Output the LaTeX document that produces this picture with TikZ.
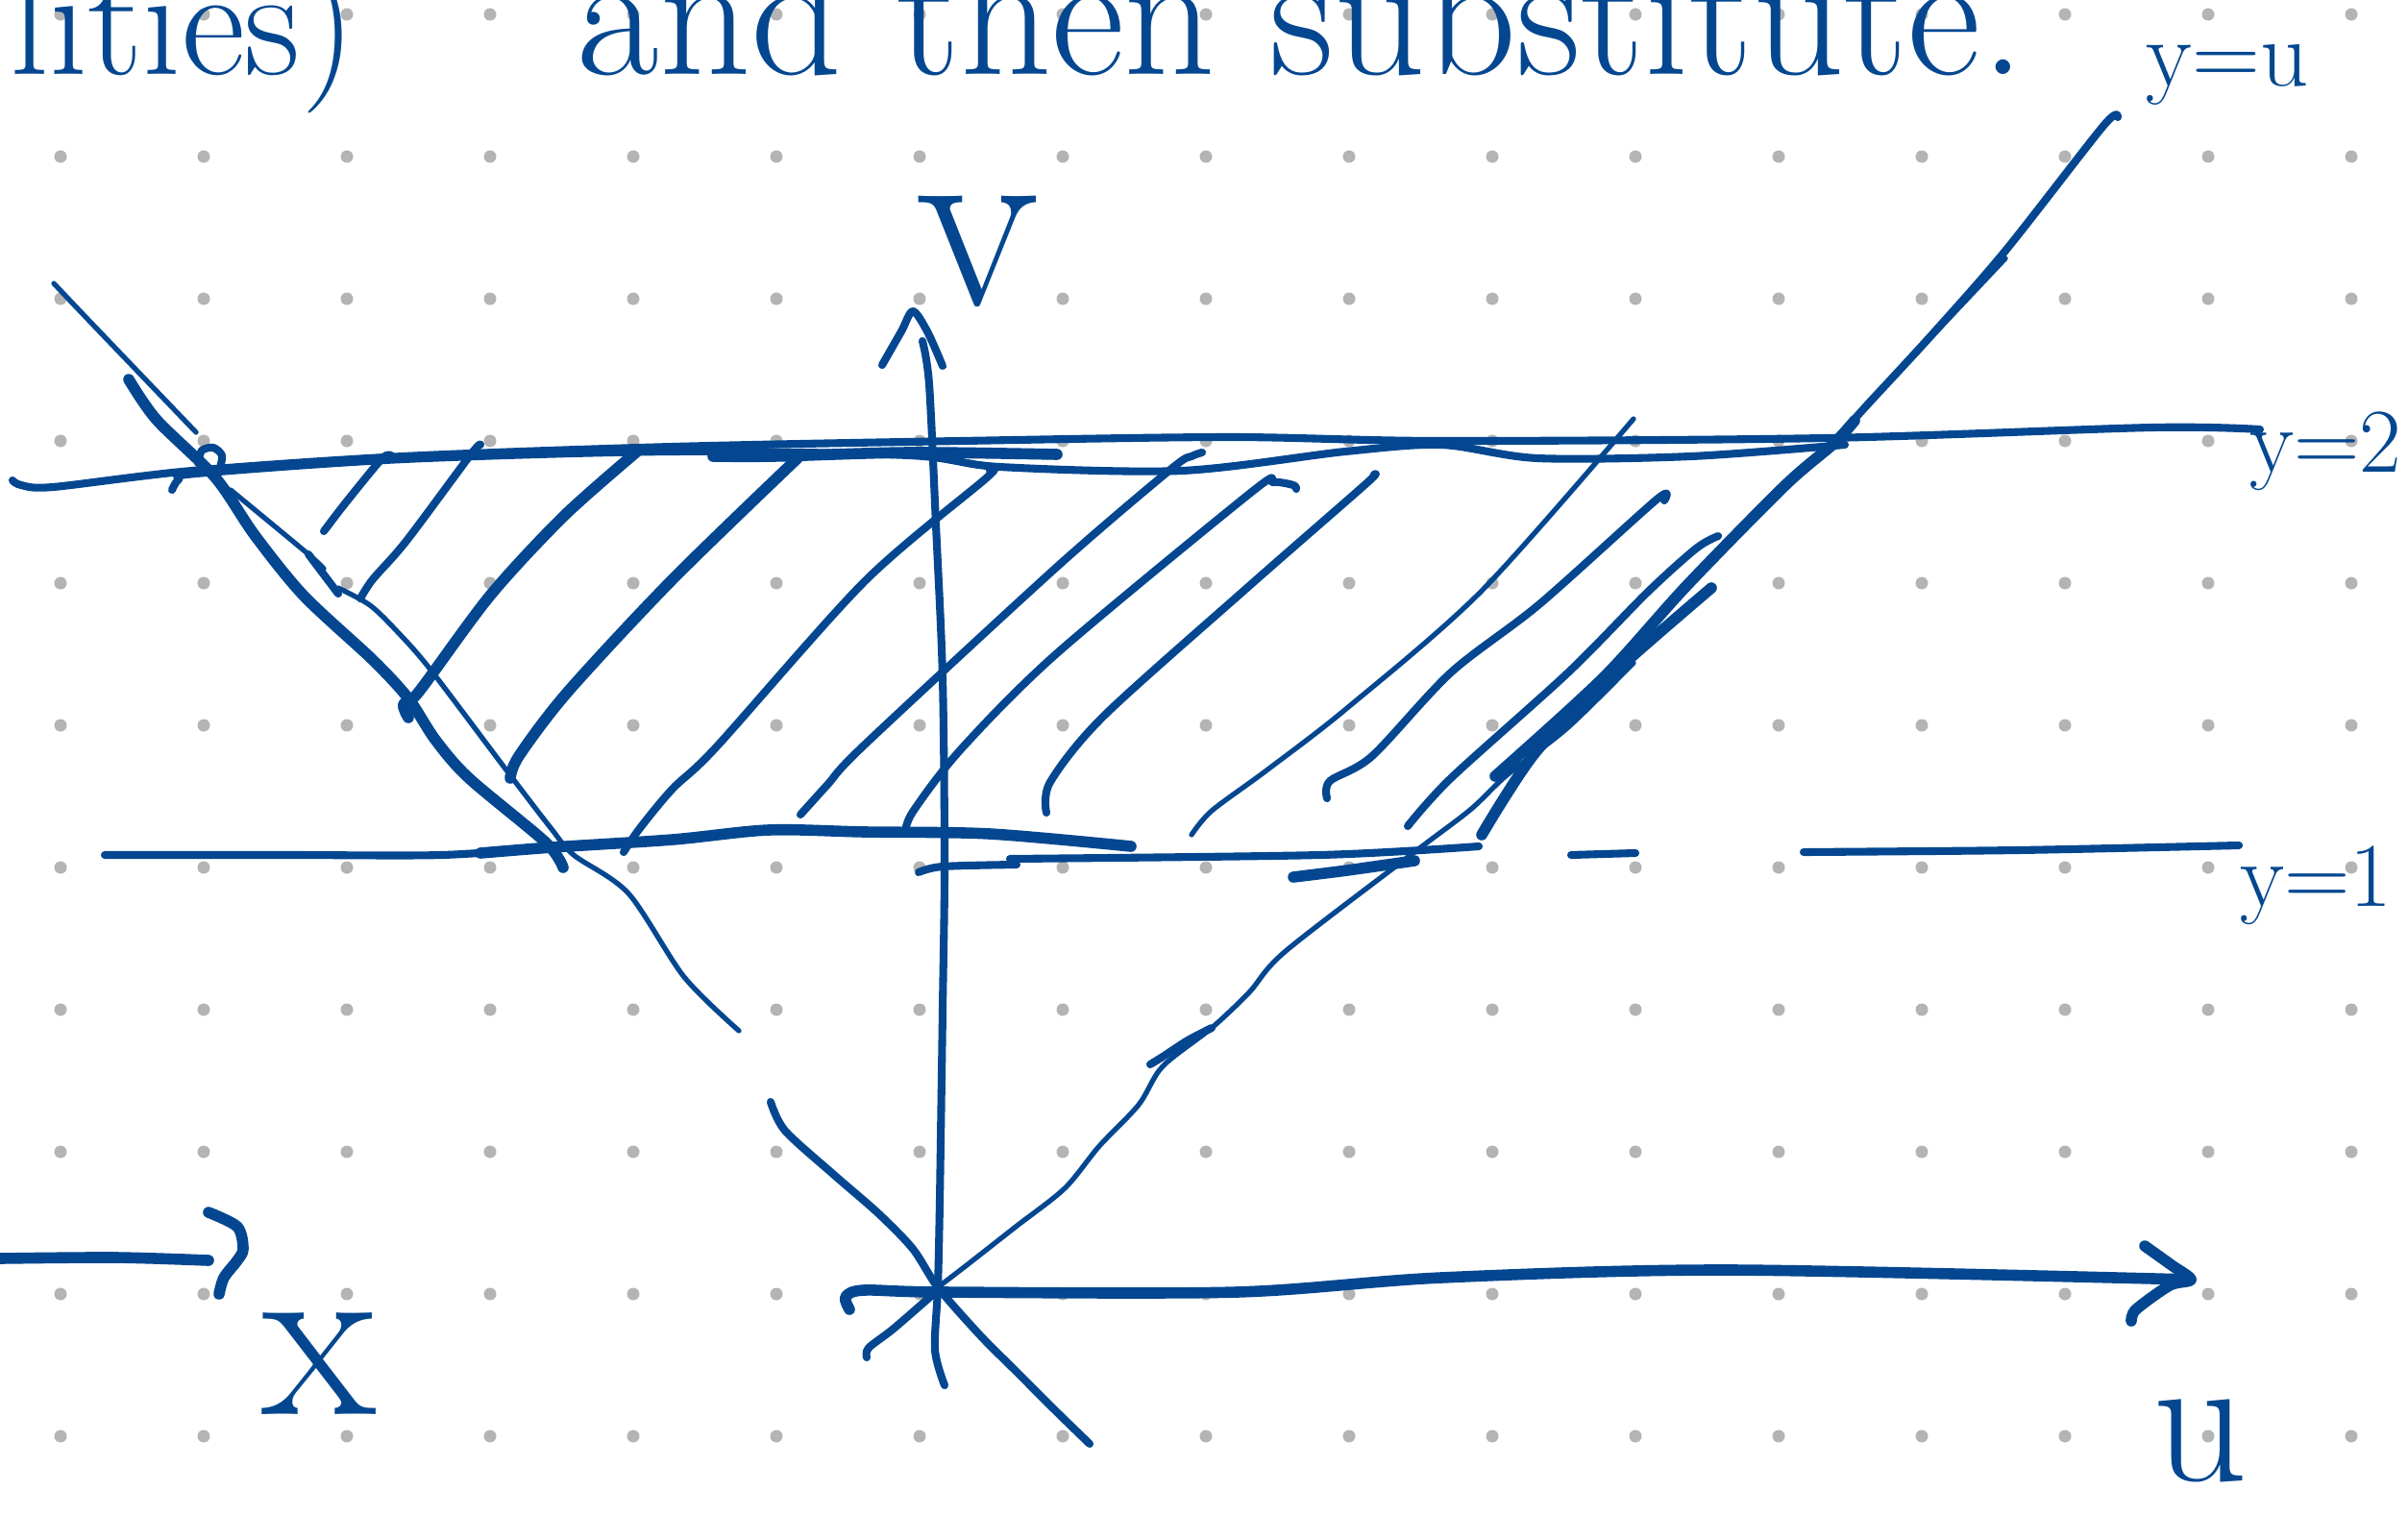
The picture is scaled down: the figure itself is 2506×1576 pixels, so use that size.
\documentclass[tikz,border=0pt]{standalone}
\usepackage{tikz}
\definecolor{inkblue}{RGB}{4,71,144}
\definecolor{dotgray}{RGB}{180,180,180}

\begin{document}
\begin{tikzpicture}[
    x=0.01cm, y=-0.01cm,
    ink/.style={draw=inkblue, line cap=round, line join=round},
    thinink/.style={ink, line width=1.5pt},
    midink/.style={ink, line width=2.3pt},
    thickink/.style={ink, line width=3.3pt},
    hand/.style={text=inkblue, inner sep=0pt},
  ]

  \useasboundingbox (0,0) rectangle (2506,1576);
  \clip (0,0) rectangle (2506,1576);

  % dotted paper
  \foreach \i in {0,...,16}
    \foreach \j in {0,...,10}
      \fill[dotgray] (63+149*\i, 15+148*\j) circle (0.65mm);

  % text cut off at the top
  \node[hand, anchor=base west, font=\fontsize{46}{46}\selectfont] (lities) at (10,78) {lities)};
  \node[hand, anchor=base west, font=\fontsize{53}{53}\selectfont] (subst) at (600,78) {and then substitute.};

  % line y=2
  \draw[midink] plot[smooth] coordinates {(13,500) (22,505) (55,507) (200,490) (420,475) (700,465)
      (1000,459) (1280,455) (1500,459) (1900,456) (2240,445) (2352,447)};
  \draw[midink] plot[smooth] coordinates {(179,510) (186,499) (204,493) (420,478) (700,470) (946,474)
      (1040,486) (1230,490) (1400,470) (1500,463) (1600,477) (1760,475) (1920,463)};
  \draw[thickink] plot[smooth] coordinates {(742,475) (805,475) (946,471) (1100,473)};
  \draw[midink] plot[smooth] coordinates {(206,482) (210,469) (222,466) (231,474) (229,487)};

  % line y=1
  \draw[midink] plot[smooth] coordinates {(109,890) (300,890) (460,890) (575,882)};
  \draw[thickink] plot[smooth] coordinates {(500,888) (575,882) (700,874) (800,864)
      (900,866) (1030,868) (1177,881)};
  \draw[midink] plot[smooth] coordinates {(956,908) (981,902) (1058,900)};
  \draw[midink] plot[smooth] coordinates {(1051,894) (1374,890) (1539,881)};
  \draw[thickink] plot[smooth] coordinates {(1346,913) (1402,906) (1472,896)};
  \draw[midink] (1635,890) -- (1702,888);
  \draw[midink] plot[smooth] coordinates {(1877,887) (2100,885) (2330,880)};

  % v axis
  \draw[midink] plot[smooth] coordinates {(983,1442) (973,1405) (976,1340) (978,1250) (981,1050)
      (983,900) (981,706) (974,546) (967,400) (960,355)};
  \draw[midink] plot[smooth] coordinates {(918,380) (938,345) (950,324) (965,345) (981,381)};

  % u axis
  \draw[thickink] plot[smooth] coordinates {(884,1363) (880,1350) (899,1343) (981,1345) (1287,1345)
      (1500,1330) (1800,1322) (2280,1332)};
  \draw[thickink] plot[smooth] coordinates {(2232,1297) (2260,1317) (2280,1332) (2258,1338)
      (2223,1363) (2218,1375)};

  % left slanted line
  \draw[thinink] plot[smooth] coordinates {(56,295) (92,333) (204,450)};
  \draw[thickink] plot[smooth] coordinates {(134,395) (163,437) (224,497) (265,557) (316,620)
      (388,687) (425,727) (453,770) (488,810) (568,877) (586,903)};
  \draw[thinink] plot[smooth] coordinates {(240,510) (321,577) (337,592)};
  \draw[midink] (321,577) -- (352,618);
  \draw[thinink] plot[smooth] coordinates {(352,612) (385,630) (413,657) (448,697) (528,803)
      (574,863) (597,890) (654,930) (712,1017) (769,1073)};
  \draw[midink] plot[smooth] coordinates {(802,1147) (817,1177) (868,1223) (914,1263) (950,1300)
      (976,1340) (1020,1390) (1057,1427) (1100,1470) (1134,1503)};
  \draw[midink] plot[smooth] coordinates {(976,1343) (930,1383) (904,1403) (902,1413)};

  % right slanted line y=u
  \draw[thinink] plot[smooth] coordinates {(976,1340) (1006,1317) (1057,1277) (1108,1237)
      (1144,1193) (1185,1150) (1210,1110) (1261,1070) (1300,1033) (1338,990) (1472,887)
      (1530,843) (1568,807) (1632,757) (1700,690)};
  \draw[midink] plot[smooth] coordinates {(1197,1108) (1210,1100) (1236,1083) (1261,1070)};
  \draw[thickink] plot[smooth] coordinates {(1542,869) (1598,783) (1680,700) (1781,612)};
  \draw[thickink] plot[smooth] coordinates {(1556,808) (1668,706) (1755,610) (1857,506) (1908,462)
      (1930,438)};
  \draw[midink] plot[smooth] coordinates {(1900,470) (1940,425) (2010,349) (2087,261) (2189,131)
      (2204,122)};
  \draw[thinink] (1939,426) -- (2087,269);

  % hatching
  \draw[midink] plot[smooth] coordinates {(337,553) (360,523) (398,477) (408,475)};
  \draw[midink] plot[smooth] coordinates {(375,623) (388,603) (423,563) (490,473) (500,463)};
  \draw[thickink] plot[smooth] coordinates {(425,747) (420,733) (436,720) (510,620) (587,537) (663,470)};
  \draw[thickink] plot[smooth] coordinates {(531,810) (540,787) (591,720) (700,603) (830,477)};
  \draw[midink] plot[smooth] coordinates {(649,887) (666,862) (700,821) (746,777) (900,605)
      (1026,498) (1030,490)};
  \draw[midink] plot[smooth] coordinates {(833,848) (861,817) (900,775) (1100,590) (1219,488)
      (1240,475) (1251,471)};
  \draw[midink] plot[smooth] coordinates {(942,867) (950,845) (1000,780) (1100,680) (1304,511)
      (1325,502) (1346,505) (1349,509)};
  \draw[midink] plot[smooth] coordinates {(1089,846) (1093,814) (1149,745) (1300,610) (1420,505)
      (1430,494)};
  \draw[thinink] plot[smooth] coordinates {(1240,869) (1261,844) (1318,802) (1402,737) (1542,615)
      (1700,436)};
  \draw[midink] plot[smooth] coordinates {(1381,831) (1384,813) (1428,787) (1510,700) (1602,629)
      (1724,520) (1732,521)};
  \draw[midink] plot[smooth] coordinates {(1465,860) (1510,810) (1632,700) (1714,617) (1765,571)
      (1788,558)};

  % arrow towards x
  \draw[thickink] plot[smooth] coordinates {(0,1310) (120,1309) (217,1312)};
  \draw[thickink] plot[smooth] coordinates {(217,1262) (247,1277) (253,1300) (247,1312) (233,1330)
      (228,1347)};

  % labels
  \node[hand, font=\fontsize{75}{75}\selectfont] (vlabel) at (1017,262) {v};
  \node[hand, font=\fontsize{55}{55}\selectfont] (ulabel) at (2290,1500) {u};
  \node[hand, font=\fontsize{70}{70}\selectfont] (xlabel) at (332,1420) {x};
  \node[hand, font=\fontsize{28}{28}\selectfont] (yu) at (2318,78) {y=u};
  \node[hand, font=\fontsize{27}{27}\selectfont] (ytwo) at (2420,470) {y=2};
  \node[hand, font=\fontsize{27}{27}\selectfont] (yone) at (2410,922) {y=1};

\end{tikzpicture}
\end{document}
